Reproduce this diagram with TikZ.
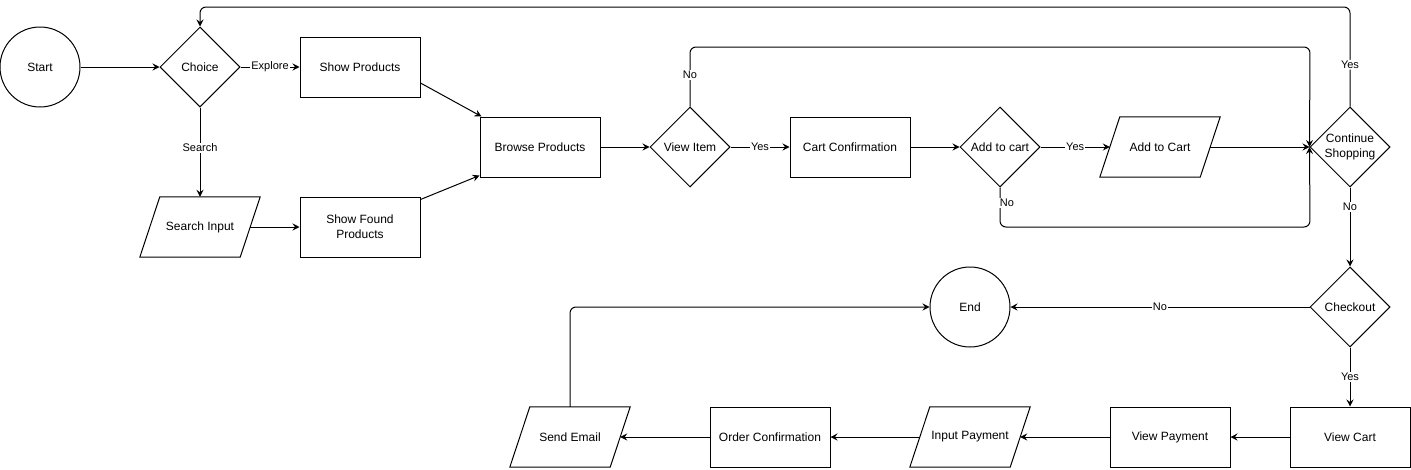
\documentclass[tikz,border=0pt]{standalone}
\usepackage{fontspec}
\setmainfont{Liberation Sans}
\usetikzlibrary{shapes.geometric,arrows.meta}
\tikzset{
  every node/.style={font=\fontsize{12}{15}\selectfont},
  terminal/.style={circle,draw,line width=1pt,minimum size=80pt,inner sep=0pt},
  process/.style={rectangle,draw,line width=1pt,minimum width=120pt,minimum height=60pt,align=center},
  decision/.style={diamond,draw,line width=1pt,minimum width=80pt,minimum height=80pt,inner sep=0pt,align=center},
  io/.style={rectangle,minimum width=100pt,minimum height=60pt},
  arr/.style={-{Stealth[length=7pt,width=7pt,inset=2.5pt]},line width=1pt},
  lbl/.style={fill=white,inner sep=1pt,font=\fontsize{11}{13}\selectfont}
}
\begin{document}
\begin{tikzpicture}[x=1pt,y=-1pt]
\useasboundingbox (0,0) rectangle (1411,469);
% top row
\node[terminal] (start) at (40,67) {Start};
\node[decision] (choice) at (200,67) {Choice};
\node[process] (showp) at (360,67) {Show Products};
\node[io] (search) at (200,227) {Search Input};
\node[process] (found) at (360,227) {Show Found\\Products};
\node[process] (browse) at (540,147) {Browse Products};
\node[decision] (view) at (690,147) {View Item};
\node[process] (cartc) at (850,147) {Cart Confirmation};
\node[decision] (addq) at (1000,147) {Add to cart};
\node[io] (addc) at (1160,147) {Add to Cart};
\node[decision] (cont) at (1350,147) {Continue\\Shopping};
% bottom rows
\node[decision] (checkout) at (1350,307) {Checkout};
\node[terminal] (end) at (970,307) {End};
\node[process] (viewcart) at (1350,437) {View Cart};
\node[process] (viewpay) at (1170,437) {View Payment};
\node[io] (inpay) at (970,437) {Input Payment};
\node[process] (orderc) at (770,437) {Order Confirmation};
\node[io] (email) at (570,437) {Send Email};
% slanted input/output boxes
\foreach \n in {search,addc,inpay,email}
  \draw[line width=1pt] ([xshift=10pt]\n.north west) -- ([xshift=10pt]\n.north east)
    -- ([xshift=-10pt]\n.south east) -- ([xshift=-10pt]\n.south west) -- cycle;

\draw[arr] (start) -- (choice);
\draw[arr] (choice) -- node[lbl] {Explore} (showp);
\draw[arr] (choice) -- node[lbl,pos=0.45] {Search} (search);
\draw[arr] (search) -- (found);
\draw[arr] ([yshift=-16pt]showp.east) -- ([xshift=2pt]browse.north west);
\draw[arr] ([yshift=-3pt]found.north east) -- ([yshift=2pt]browse.south west);
\draw[arr] (browse) -- (view);
\draw[arr] (view) -- node[lbl] {Yes} (cartc);
\draw[arr,rounded corners=6pt] (view.north) -- node[lbl,pos=0.53] {No} (690,47) -- (1310,47) -- (cont.west);
\draw[arr] (cartc) -- (addq);
\draw[arr] (addq) -- node[lbl] {Yes} (addc);
\draw[arr,rounded corners=6pt] (addq.south) -- (1000,227) -- (1310,227) -- (cont.west);
\node[lbl] (addno) at (1007,203) {No};
\draw[arr] (addc) -- (cont);
\draw[arr,rounded corners=6pt] (cont.north) -- node[lbl,pos=0.42] {Yes} (1350,7) -- (200,7) -- (choice.north);
\draw[arr] (cont) -- node[lbl,pos=0.25] {No} (checkout);
\draw[arr] (checkout) -- node[lbl] {No} (end);
\draw[arr] (checkout) -- node[lbl] {Yes} (viewcart);
\draw[arr] (viewcart) -- (viewpay);
\draw[arr] (viewpay) -- (inpay);
\draw[arr] (inpay) -- (orderc);
\draw[arr] (orderc) -- (email);
\draw[arr,rounded corners=6pt] (email.north) -- (570,307) -- (end.west);
\end{tikzpicture}
\end{document}
